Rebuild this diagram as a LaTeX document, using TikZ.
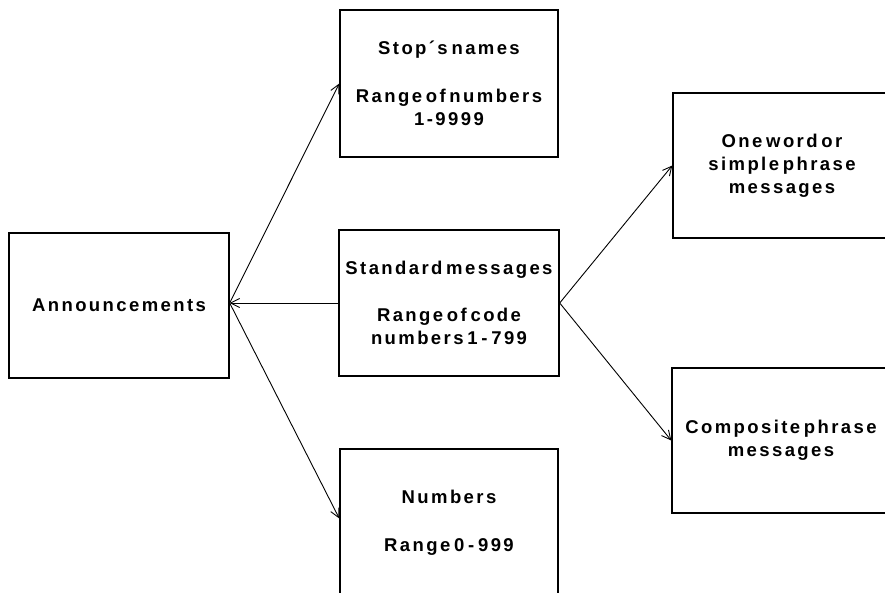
\documentclass[tikz,border=0pt]{standalone}
\usepackage{fontspec}
\setmainfont{Liberation Sans}[BoldFont={* Bold}, LetterSpace=13, WordSpace=0.5]
\usetikzlibrary{arrows.meta,calc}

\begin{document}
\begin{tikzpicture}[x=1pt,y=-1pt,
  box/.style={draw, line width=1.4pt, inner sep=0pt, align=center,
              font=\bfseries\fontsize{18.5}{23}\selectfont},
  link/.style={line width=0.9pt},
  arrowlink/.style={link, -{Straight Barb[length=9pt,width=9pt,line width=0.9pt]}}]
  \useasboundingbox (0,0) rectangle (885,592);
  \clip (0,0) rectangle (885,592);

  % boxes
  \node[box, minimum width=220pt, minimum height=145pt] (ann) at (119,305.5)
    {Announcements};
  \node[box, minimum width=218pt, minimum height=147pt] (stop) at (449,83.5)
    {Stop´s names\\[25pt]Range of numbers\\1-9999};
  \node[box, minimum width=220pt, minimum height=146pt] (std) at (449,303)
    {Standard messages\\[24pt]Range of code\\numbers 1 - 799};
  \node[box, minimum width=218pt, minimum height=147pt] (num) at (449,522.5)
    {Numbers\\[25pt]Range 0 - 999};
  \node[box, minimum width=218pt, minimum height=145pt] (one) at (782,165.5)
    {One word or\\simple phrase\\messages};
  \node[box, minimum width=218pt, minimum height=145pt] (comp) at (781,440.5)
    {Composite phrase\\messages};

  % junction points
  \coordinate (aport) at (ann.east |- std.west);
  \coordinate (numin) at ($(num.west)+(0,-4)$);

  % connectors
  \draw[arrowlink] (std.west) -- (aport);
  \draw[arrowlink] (aport) -- (stop.west);
  \draw[arrowlink] (aport) -- (numin);
  \draw[arrowlink] (std.east) -- (one.west);
  \draw[arrowlink] (std.east) -- (comp.west);
\end{tikzpicture}
\end{document}
